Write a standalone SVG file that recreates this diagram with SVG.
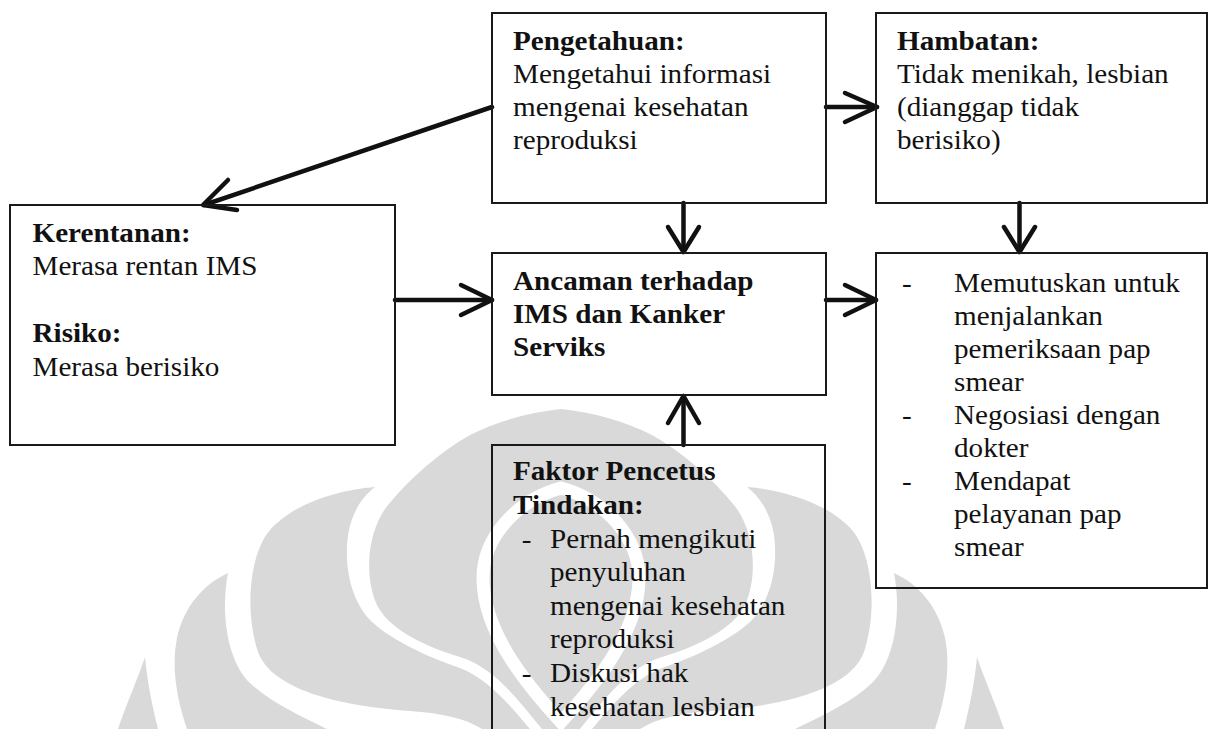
<svg xmlns="http://www.w3.org/2000/svg" width="1209" height="729" viewBox="0 0 1209 729">
  <style>
    .box { fill: none; stroke: #1a1a1a; stroke-width: 2; }
    .t { font-family: "Liberation Serif", "Times New Roman", serif; font-size: 27.5px; fill: #111; }
    .b { font-weight: bold; }
    .edge { fill: none; stroke: #111; stroke-width: 4.5; stroke-linecap: round; stroke-linejoin: round; }
    .wm { fill: #d9d9d9; }
  </style>

  <rect width="1209" height="729" fill="#ffffff"/>

  <!-- faint background emblem -->
  <g id="watermark">
    <path class="wm" d="M145,657 C138,678 126,705 118,729 L158,729 C152,705 147,680 145,657 Z"/>
    <path class="wm" d="M977,657 C984,678 996,705 1004,729 L964,729 C970,705 975,680 977,657 Z"/>
    <path class="wm" d="M228,573 C204,584 184,606 177,638 C171,668 177,700 187,729 L327,729 C300,716 270,702 250,683 C228,662 220,615 228,573 Z"/>
    <path class="wm" d="M894,573 C918,584 938,606 945,638 C951,668 945,700 935,729 L795,729 C822,716 852,702 872,683 C894,662 902,615 894,573 Z"/>
    <path class="wm" d="M375,487 C335,490 292,505 270,530 C250,553 244,610 258,652 C272,690 340,706 410,711 C440,713 465,718 482,729 L530,729 C510,706 490,680 460,668 C425,656 392,640 372,622 C350,600 344,565 348,535 C352,512 362,497 375,487 Z"/>
    <path class="wm" d="M747,487 C787,490 830,505 852,530 C872,553 878,610 864,652 C850,690 782,706 712,711 C682,713 657,718 640,729 L592,729 C612,706 632,680 662,668 C697,656 730,640 750,622 C772,600 778,565 774,535 C770,512 760,497 747,487 Z"/>
    <path class="wm" d="M561,409 C530,412 495,422 470,435 C440,452 410,478 388,505 C366,532 364,580 378,607 C392,632 430,648 460,657 C495,668 518,700 542,729 L580,729 C604,700 627,668 662,657 C692,648 730,632 744,607 C758,580 756,532 734,505 C712,478 682,452 652,435 C627,422 592,412 561,409 Z"/>
    <path d="M561,488 C605,500 640,538 639,580 C638,630 600,680 561,722 C522,680 484,630 483,580 C482,538 517,500 561,488 Z" fill="none" stroke="#ffffff" stroke-width="13"/>
  </g>

  <!-- connectors -->
  <g id="connectors">
    <!-- Pengetahuan -> Kerentanan -->
    <line class="edge" x1="492" y1="107" x2="204" y2="205"/>
    <polyline class="edge" points="228,180 203,205 237,210"/>
    <!-- Pengetahuan -> Hambatan -->
    <line class="edge" x1="826" y1="107" x2="877" y2="107"/>
    <polyline class="edge" points="845,93 877,107 845,122"/>
    <!-- Pengetahuan -> Ancaman -->
    <line class="edge" x1="683.5" y1="203" x2="683.5" y2="252"/>
    <polyline class="edge" points="668,227 683.5,252 699,227"/>
    <!-- Hambatan -> Keputusan -->
    <line class="edge" x1="1019.5" y1="203" x2="1019.5" y2="252"/>
    <polyline class="edge" points="1004,227 1019.5,252 1035,227"/>
    <!-- Kerentanan -> Ancaman -->
    <line class="edge" x1="395" y1="300" x2="492" y2="300"/>
    <polyline class="edge" points="461,285 492,300 461,315"/>
    <!-- Ancaman -> Keputusan -->
    <line class="edge" x1="826" y1="300" x2="876" y2="300"/>
    <polyline class="edge" points="845,285 876,300 845,315"/>
    <!-- Faktor Pencetus -> Ancaman -->
    <line class="edge" x1="683.5" y1="445" x2="683.5" y2="396"/>
    <polyline class="edge" points="668,423 683.5,396 699,423"/>
  </g>

  <g id="pengetahuan">
    <rect class="box" x="492" y="13" width="334" height="190"/>
    <g transform="translate(513,0) scale(1.06,1)">
      <text class="t b" x="0" y="50">Pengetahuan:</text>
      <text class="t" x="0" y="83">Mengetahui informasi</text>
      <text class="t" x="0" y="116">mengenai kesehatan</text>
      <text class="t" x="0" y="149">reproduksi</text>
    </g>
  </g>

  <g id="hambatan">
    <rect class="box" x="876" y="13" width="331" height="190"/>
    <g transform="translate(897,0) scale(1.06,1)">
      <text class="t b" x="0" y="50">Hambatan:</text>
      <text class="t" x="0" y="83">Tidak menikah, lesbian</text>
      <text class="t" x="0" y="116">(dianggap tidak</text>
      <text class="t" x="0" y="149">berisiko)</text>
    </g>
  </g>

  <g id="kerentanan">
    <rect class="box" x="10" y="205" width="385" height="240"/>
    <g transform="translate(32.5,0) scale(1.06,1)">
      <text class="t b" x="0" y="242">Kerentanan:</text>
      <text class="t" x="0" y="275.5">Merasa rentan IMS</text>
      <text class="t b" x="0" y="342.5">Risiko:</text>
      <text class="t" x="0" y="376">Merasa berisiko</text>
    </g>
  </g>

  <g id="ancaman">
    <rect class="box" x="492" y="253" width="334" height="142"/>
    <g transform="translate(513,0) scale(1.06,1)">
      <text class="t b" x="0" y="290">Ancaman terhadap</text>
      <text class="t b" x="0" y="323">IMS dan Kanker</text>
      <text class="t b" x="0" y="356">Serviks</text>
    </g>
  </g>

  <g id="keputusan">
    <rect class="box" x="876" y="253" width="331" height="335"/>
    <g transform="translate(902,0) scale(1.06,1)">
      <text class="t" x="0" y="292">-</text>
      <text class="t" x="49.1" y="292">Memutuskan untuk</text>
      <text class="t" x="49.1" y="325">menjalankan</text>
      <text class="t" x="49.1" y="358">pemeriksaan pap</text>
      <text class="t" x="49.1" y="391">smear</text>
      <text class="t" x="0" y="424">-</text>
      <text class="t" x="49.1" y="424">Negosiasi dengan</text>
      <text class="t" x="49.1" y="457">dokter</text>
      <text class="t" x="0" y="490">-</text>
      <text class="t" x="49.1" y="490">Mendapat</text>
      <text class="t" x="49.1" y="523">pelayanan pap</text>
      <text class="t" x="49.1" y="556">smear</text>
    </g>
  </g>

  <g id="faktor-pencetus">
    <rect class="box" x="492" y="445" width="333" height="300"/>
    <g transform="translate(513,0) scale(1.06,1)">
      <text class="t b" x="0" y="480">Faktor Pencetus</text>
      <text class="t b" x="0" y="514">Tindakan:</text>
      <text class="t" x="8.2" y="548">-</text>
      <text class="t" x="34.9" y="548">Pernah mengikuti</text>
      <text class="t" x="34.9" y="581">penyuluhan</text>
      <text class="t" x="34.9" y="615">mengenai kesehatan</text>
      <text class="t" x="34.9" y="648">reproduksi</text>
      <text class="t" x="8.2" y="682">-</text>
      <text class="t" x="34.9" y="682">Diskusi hak</text>
      <text class="t" x="34.9" y="716">kesehatan lesbian</text>
    </g>
  </g>
</svg>
